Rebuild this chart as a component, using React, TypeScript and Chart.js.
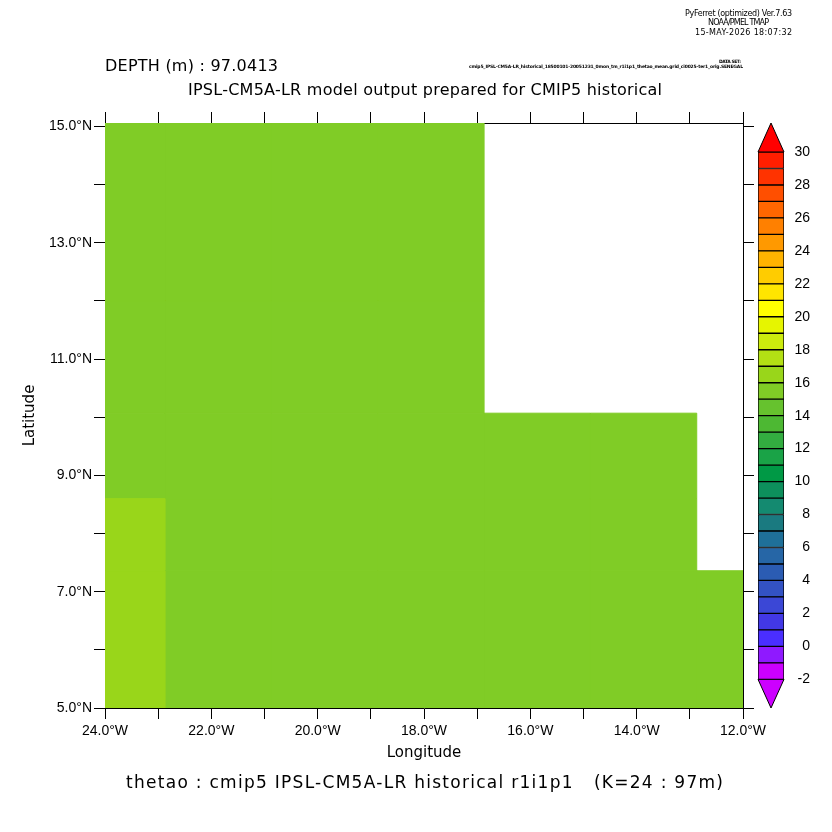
import React, { useEffect, useRef } from "react";
import { Chart, registerables } from "chart.js";

Chart.register(...registerables);

const FONT = '"DejaVu Sans", sans-serif';
const TICK_FONT = '"Liberation Sans", sans-serif';

// Map grid: cell edges and values (null = land / missing)
const lonEdges = [-24, -22.87, -20.87, -18.87, -16.87, -14.87, -12.87, -12];
const latEdges = [5, 7.36, 8.6, 10.07, 12, 15.06];
const cellValues: (number | null)[][] = [
  [16.5, 15.5, 15.5, 15.5, 15.5, 15.5, 15.5],
  [16.5, 15.5, 15.5, 15.5, 15.5, 15.5, null],
  [15.5, 15.5, 15.5, 15.5, 15.5, 15.5, null],
  [15.5, 15.5, 15.5, 15.5, null, null, null],
  [15.5, 15.5, 15.5, 15.5, null, null, null],
];

// Colour bar
const levels = [-2, -1, 0, 1, 2, 3, 4, 5, 6, 7, 8, 9, 10, 11, 12, 13, 14, 15, 16, 17, 18, 19, 20, 21, 22, 23, 24, 25, 26, 27, 28, 29, 30];
const bandColors = [
  "#cc00ff", "#8f19ff", "#4a2eff", "#4238e6", "#3b47d6", "#3352c4", "#2b5cb3", "#2666a6",
  "#1f7099", "#1a7a80", "#148a70", "#0d8f5c", "#009945", "#1aa347", "#33ad40", "#4db833",
  "#66c22e", "#80cc26", "#99d61a", "#b3e014", "#cceb0d", "#e6f500", "#ffff00", "#ffe500",
  "#ffcc00", "#ffb300", "#ff9900", "#ff8000", "#ff6600", "#ff4f00", "#ff3300", "#ff1e00",
];
const colorbarTicks = [-2, 0, 2, 4, 6, 8, 10, 12, 14, 16, 18, 20, 22, 24, 26, 28, 30];
const underColor = "#cc00ff";
const overColor = "#ff0000";

// Axis ticks
const lonTickLabels: Record<number, string> = {
  [-24]: "24.0°W", [-22]: "22.0°W", [-20]: "20.0°W", [-18]: "18.0°W",
  [-16]: "16.0°W", [-14]: "14.0°W", [-12]: "12.0°W",
};
const latTickLabels: Record<number, string> = {
  5: "5.0°N", 7: "7.0°N", 9: "9.0°N", 11: "11.0°N", 13: "13.0°N", 15: "15.0°N",
};

// Page texts: [text, left x, baseline y, target width, font, size]
const pageTexts: [string, number, number, number, string, number][] = [
  ["PyFerret (optimized) Ver.7.63", 685, 16, 107, "", 8],
  ["NOAA/PMEL TMAP", 708, 25, 61, "", 8],
  ["15-MAY-2026 18:07:32", 695, 35, 97, "", 8],
  ["DEPTH (m) : 97.0413", 105, 71, 173, "", 16],
  ["IPSL-CM5A-LR model output prepared for CMIP5 historical", 188, 95, 474, "", 16],
  ["DATA SET:", 719, 63, 22, "bold ", 4.5],
  ["cmip5_IPSL-CM5A-LR_historical_18500101-20051231_0mon_tm_r1i1p1_thetao_mean.grid_ci0025-ter1_orig.SENEGAL", 469, 67.5, 274, "bold ", 4.5],
  ["thetao : cmip5 IPSL-CM5A-LR historical r1i1p1   (K=24 : 97m)", 126, 788, 597, "", 17],
];

const colorFor = (v: number) => {
  const i = levels.findIndex((l, k) => v >= l && v < levels[k + 1]);
  return bandColors[i];
};

function polygon(x0: number, x1: number, y0: number, y1: number) {
  return [
    { x: x0, y: y0 }, { x: x1, y: y0 }, { x: x1, y: y1 }, { x: x0, y: y1 }, { x: x0, y: y0 },
  ];
}

const pageTextPlugin = {
  id: "pageText",
  afterDraw(chart: any) {
    const ctx = chart.ctx;
    ctx.save();
    ctx.fillStyle = "#000";
    ctx.textBaseline = "alphabetic";
    ctx.textAlign = "left";
    for (const [t, x, y, w, weight, size] of pageTexts) {
      ctx.font = `${weight}${size}px ${FONT}`;
      ctx.letterSpacing = "0px";
      const m = ctx.measureText(t).width;
      ctx.letterSpacing = `${(w - m) / (t.length - 1)}px`;
      ctx.fillText(t, x, y);
    }
    ctx.restore();
  },
};

export default function App() {
  const mapRef = useRef<HTMLCanvasElement>(null);
  const barRef = useRef<HTMLCanvasElement>(null);

  useEffect(() => {
    document.body.style.margin = "0";
    document.body.style.background = "#fff";

    const cellDatasets: any[] = [];
    cellValues.forEach((row, j) =>
      row.forEach((v, i) => {
        if (v === null) return;
        const c = colorFor(v);
        cellDatasets.push({
          data: polygon(lonEdges[i], lonEdges[i + 1], latEdges[j], latEdges[j + 1]),
          showLine: true,
          fill: "shape",
          backgroundColor: c,
          borderColor: c,
          borderWidth: 1,
          pointRadius: 0,
          tension: 0,
        });
      })
    );

    const tickFont = { family: TICK_FONT, size: 14 };
    const gridOpts = {
      drawOnChartArea: false,
      drawTicks: true,
      tickLength: 11,
      tickColor: "#000",
      color: "#000",
      lineWidth: 1,
    };
    const border = { display: true, color: "#000", width: 1 };
    const lonTicks = (s: any) => {
      s.ticks = [];
      for (let v = -24; v <= -12; v++) s.ticks.push({ value: v });
    };
    const latTicks = (s: any) => {
      s.ticks = [];
      for (let v = 5; v <= 15; v++) s.ticks.push({ value: v });
    };

    const map = new Chart(mapRef.current!, {
      type: "scatter",
      data: { datasets: cellDatasets },
      plugins: [pageTextPlugin],
      options: {
        animation: false,
        responsive: false,
        layout: { padding: 0 },
        plugins: { legend: { display: false }, tooltip: { enabled: false } },
        scales: {
          x: {
            type: "linear", position: "bottom", min: -24, max: -12,
            afterBuildTicks: lonTicks,
            afterFit: (s: any) => { s.height = 124; },
            grid: gridOpts, border,
            title: { display: true, text: "Longitude", color: "#000", font: { family: FONT, size: 15 }, padding: { top: 0, bottom: 70 } },
            ticks: {
              autoSkip: false, maxRotation: 0, color: "#000", font: tickFont, padding: 4,
              callback: (v: any) => lonTickLabels[v] ?? "",
            },
          },
          xTop: {
            type: "linear", position: "top", min: -24, max: -12,
            afterBuildTicks: lonTicks,
            afterFit: (s: any) => { s.height = 123; },
            grid: gridOpts, border,
            ticks: { autoSkip: false, maxRotation: 0, callback: () => "", font: tickFont },
          },
          y: {
            type: "linear", position: "left", min: 5, max: 15.06,
            afterBuildTicks: latTicks,
            afterFit: (s: any) => { s.width = 105; },
            grid: gridOpts, border,
            title: { display: true, text: "Latitude", color: "#000", font: { family: FONT, size: 15 }, padding: { top: 21, bottom: 0 } },
            ticks: {
              autoSkip: false, color: "#000", font: tickFont, padding: 2,
              callback: (v: any) => latTickLabels[v] ?? "",
            },
          },
          yRight: {
            type: "linear", position: "right", min: 5, max: 15.06,
            afterBuildTicks: latTicks,
            afterFit: (s: any) => { s.width = 89; },
            grid: gridOpts, border,
            ticks: { autoSkip: false, callback: () => "", font: tickFont },
          },
        },
      } as any,
    });

    // Colour bar: one floating bar for each band, triangles for the out-of-range ends
    const barDatasets: any[] = bandColors.map((c, i) => ({
      type: "bar",
      data: [{ x: 0.5, y: [levels[i], levels[i + 1]] }],
      backgroundColor: c,
      borderColor: "#000",
      borderWidth: 1,
      borderSkipped: false,
      grouped: false,
      barThickness: 26,
      xAxisID: "x",
    }));
    const triangle = (base: number, apex: number, color: string) => ({
      type: "scatter",
      data: [
        { x: 0, y: base }, { x: 1, y: base }, { x: 0.5, y: apex }, { x: 0, y: base },
      ],
      showLine: true,
      fill: "shape",
      backgroundColor: color,
      borderColor: "#000",
      borderWidth: 1,
      pointRadius: 0,
      tension: 0,
      clip: false,
    });

    const bar = new Chart(barRef.current!, {
      data: {
        datasets: [
          ...barDatasets,
          triangle(-2, -3.74, underColor),
          triangle(30, 31.76, overColor),
        ],
      },
      options: {
        animation: false,
        responsive: false,
        layout: { padding: { left: 758 - 745, top: 123, bottom: 832 - 708, right: 22 } },
        plugins: { legend: { display: false }, tooltip: { enabled: false } },
        scales: {
          x: { type: "linear", min: 0, max: 1, display: false, offset: false },
          y: {
            type: "linear", position: "right", min: -3.74, max: 31.76,
            afterBuildTicks: (s: any) => { s.ticks = colorbarTicks.map((value) => ({ value })); },
            afterFit: (s: any) => { s.width = 26; },
            grid: { display: false },
            border: { display: false },
            ticks: { autoSkip: false, color: "#000", font: { family: TICK_FONT, size: 14 }, padding: 2, crossAlign: "far", callback: (v: any) => String(v) },
          },
        },
      } as any,
    });

    return () => {
      map.destroy();
      bar.destroy();
    };
  }, []);

  return (
    <div style={{ position: "absolute", left: 0, top: 0, width: 832, height: 832, background: "#fff" }}>
      <canvas ref={mapRef} width={832} height={832} style={{ position: "absolute", left: 0, top: 0, width: 832, height: 832 }} />
      <canvas ref={barRef} width={87} height={832} style={{ position: "absolute", left: 745, top: 0, width: 87, height: 832 }} />
    </div>
  );
}
